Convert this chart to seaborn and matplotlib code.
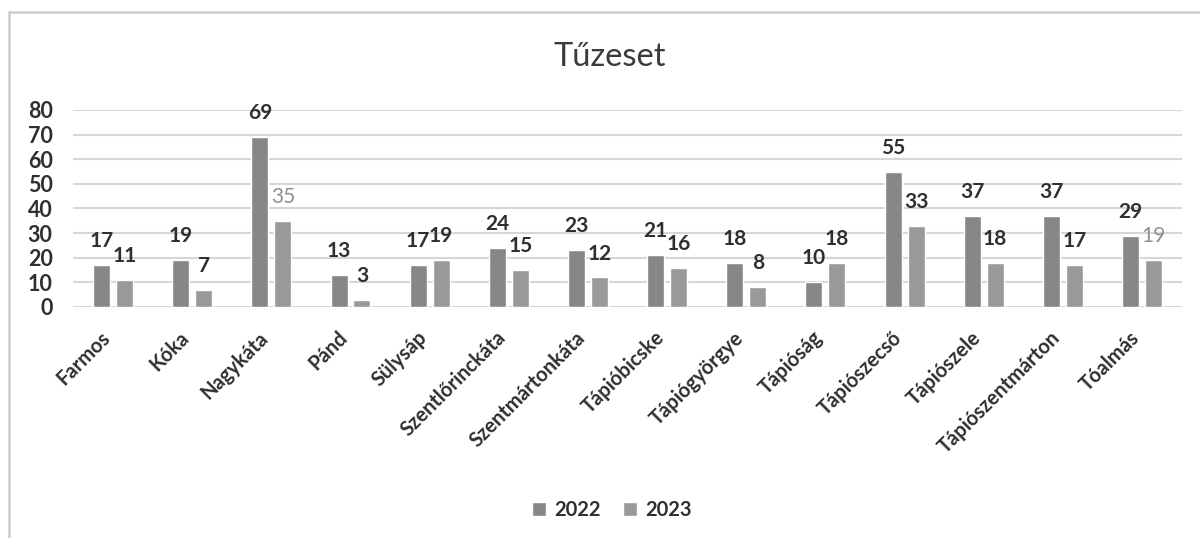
import pandas as pd
import seaborn as sns
import matplotlib.pyplot as plt
from matplotlib.lines import Line2D
from matplotlib.transforms import ScaledTranslation

# Settlements and yearly fire counts
towns = ["Farmos", "Kóka", "Nagykáta", "Pánd", "Sülysáp", "Szentlőrinckáta",
         "Szentmártonkáta", "Tápióbicske", "Tápiógyörgye", "Tápióság",
         "Tápiószecső", "Tápiószele", "Tápiószentmárton", "Tóalmás"]
fires_2022 = [17, 19, 69, 13, 17, 24, 23, 21, 18, 10, 55, 37, 37, 29]
fires_2023 = [11, 7, 35, 3, 19, 15, 12, 16, 8, 18, 33, 18, 17, 19]
years = ["2022", "2023"]

df = pd.DataFrame({
    "town": towns * 2,
    "year": [years[0]] * len(towns) + [years[1]] * len(towns),
    "value": fires_2022 + fires_2023,
})

sns.set_theme(style="white")
plt.rcParams["font.family"] = ["Lato", "DejaVu Sans"]

fig = plt.figure(figsize=(12, 5.38), dpi=100)
ax = fig.add_axes([0.0612, 0.4294, 0.9235, 0.3662])

sns.barplot(data=df, x="town", y="value", hue="year",
            palette=["#878787", "#999999"], width=0.58, gap=0.26,
            saturation=1, ax=ax, zorder=3)

ax.set_ylim(0, 80)
ax.set_xlim(-0.5, len(towns) - 0.5)
ax.set_yticks(range(0, 81, 10))
ax.yaxis.grid(True, color="#d6d6d6", linewidth=1.5, zorder=0)
for s in ax.spines.values():
    s.set_visible(False)
ax.set_xlabel("")
ax.set_ylabel("")
ax.tick_params(axis="y", length=0, pad=15, labelsize=15.5, labelcolor="#2f2f2f")
ax.tick_params(axis="x", length=0, pad=20, labelsize=14.5, labelcolor="#2f2f2f")
for t in ax.get_yticklabels():
    t.set_fontweight("bold")

offset = ScaledTranslation(-6 / 100, 0, fig.dpi_scale_trans)
for t in ax.get_xticklabels():
    t.set_rotation(45)
    t.set_ha("right")
    t.set_va("center")
    t.set_rotation_mode("anchor")
    t.set_fontweight("bold")
    t.set_transform(t.get_transform() + offset)

# value labels
light = {(1, 2), (1, 13)}
for ci, cont in enumerate(ax.containers):
    labels = ax.bar_label(cont, padding=10, fontsize=15, fontweight="bold",
                          color="#2f2f2f", clip_on=False)
    for i, lab in enumerate(labels):
        if (ci, i) in light:
            lab.set_color("#8f8f8f")
            lab.set_fontweight("normal")

ax.legend_.remove()
handles, labs = ax.get_legend_handles_labels()
fig.legend(handles, labs, loc="center", bbox_to_anchor=(0.51, 0.052), ncol=2,
           frameon=False, handlelength=0.7, handleheight=0.7,
           handletextpad=0.4, columnspacing=1.1,
           prop={"size": 14.5, "weight": "bold"}, labelcolor="#2f2f2f")

fig.text(0.508, 1 - 57 / 538, "Tűzeset", ha="center", va="center",
         fontsize=23.5, color="#3a3a3a")

# scanned chart border (top and left edges)
fig.add_artist(Line2D([0.0075, 1.0], [0.978, 0.978], color="#cfcfcf", lw=1.8))
fig.add_artist(Line2D([0.0075, 0.0075], [0.0, 0.978], color="#cfcfcf", lw=1.8))

fig.savefig("out.png", dpi=100, facecolor="white")
